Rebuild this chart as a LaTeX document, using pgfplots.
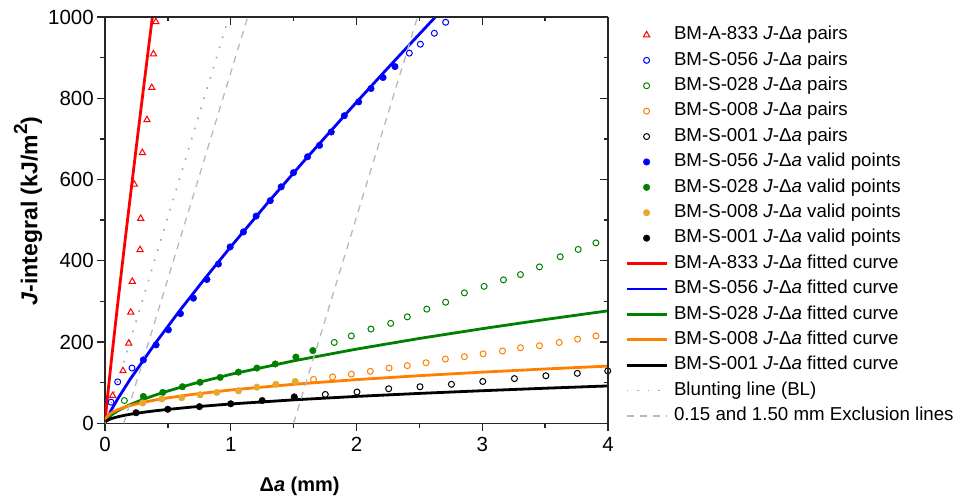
\documentclass[border=0pt]{standalone}
\usepackage{pgfplots}
\pgfplotsset{compat=1.18}
\usepackage{fontspec}
\setmainfont{Liberation Sans}
\definecolor{cRed}{RGB}{255,0,0}
\definecolor{cBlue}{RGB}{0,0,255}
\definecolor{cGreen}{RGB}{0,128,0}
\definecolor{cOrange}{RGB}{255,128,0}
\definecolor{cGold}{RGB}{232,168,48}
\definecolor{cGrey}{RGB}{185,185,185}
\definecolor{cDot}{RGB}{165,165,165}
\newcommand{\JDa}{\textit{J}-Δ\textit{a}}
\begin{document}
\begin{tikzpicture}
\pgfplotsset{
  common/.style={
    at={(0,0)}, anchor=south west,
    scale only axis, width=503bp, height=406.3bp,
    xmin=0, xmax=4, ymin=0, ymax=1000,
    axis line style={-, line width=1.5bp, black!85},
    every tick/.style={line width=1.4bp, black!85},
    major tick length=7.7bp, minor tick length=4.5bp,
    xtick={0,1,2,3,4}, ytick={0,200,400,600,800,1000},
    minor x tick num=1, minor y tick num=1,
  }
}
\begin{axis}[common,
  axis x line*=bottom, axis y line*=left,
  tick align=outside,
  tick label style={font=\fontsize{20.5bp}{24bp}\selectfont},
  xticklabel style={yshift=-3bp},
  /pgf/number format/assume math mode=true,
  /pgf/number format/1000 sep={},
  xlabel={\textbf{Δ\textit{a} (mm)}},
  ylabel={\textbf{\textit{J}-integral (kJ/m\raisebox{0.45em}{\fontsize{19bp}{20bp}\selectfont 2})}},
  xlabel style={font=\fontsize{20bp}{24bp}\selectfont, at={(rel axis cs:0.387,0)}, anchor=center, yshift=-63.4bp},
  ylabel style={font=\fontsize{23bp}{26bp}\selectfont, at={(rel axis cs:0,0.5225)}, anchor=center, yshift=77bp},
  legend image code/.code={\draw[mark repeat=2,mark phase=2,#1] plot coordinates {(0bp,0bp) (20bp,0bp) (40bp,0bp)};},
  legend cell align=left,
  legend style={at={(rel axis cs:1,1)}, anchor=north west, xshift=17bp, yshift=-9bp,
    draw=none, fill=none, inner sep=0pt, row sep=7.9bp,
    font=\fontsize{18.7bp}{22bp}\selectfont,
    nodes={inner sep=0pt, text height=13.5bp, text depth=4bp},
    /tikz/every odd column/.append style={column sep=6bp}},
]
% J-Delta a pairs
\addplot[only marks, mark=triangle, mark size=3.6bp, color=cRed, mark options={line width=1bp}] coordinates {
(0.061,68) (0.143,129) (0.189,197) (0.205,273) (0.217,349) (0.279,427) (0.284,504)
(0.233,588) (0.297,666) (0.334,747) (0.372,826) (0.385,909) (0.404,988)};
\addlegendentry{BM-A-833 \JDa{} pairs}
\addplot[only marks, mark=o, mark size=3bp, color=cBlue, mark options={line width=1bp}] coordinates {
(0.048,52) (0.101,102) (0.215,136) (2.420,911) (2.508,933) (2.619,960) (2.709,987)};
\addlegendentry{BM-S-056 \JDa{} pairs}
\addplot[only marks, mark=o, mark size=3bp, color=cGreen, mark options={line width=1bp}] coordinates {
(0.154,56) (1.823,199) (1.959,215) (2.115,232) (2.272,246) (2.404,262) (2.559,281)
(2.709,298) (2.858,321) (3.015,337) (3.169,353) (3.304,366) (3.455,385) (3.620,410)
(3.763,428) (3.904,444)};
\addlegendentry{BM-S-028 \JDa{} pairs}
\addplot[only marks, mark=o, mark size=3bp, color=cOrange, mark options={line width=1bp}] coordinates {
(1.658,108) (1.810,114) (1.959,121) (2.110,128) (2.259,136) (2.404,142) (2.553,149)
(2.707,158) (2.858,164) (3.007,171) (3.161,178) (3.304,186) (3.455,191) (3.612,199)
(3.758,207) (3.904,215)};
\addlegendentry{BM-S-008 \JDa{} pairs}
\addplot[only marks, mark=o, mark size=3bp, color=black, mark options={line width=1bp}] coordinates {
(1.752,71) (2.004,77) (2.256,85) (2.505,90) (2.755,96) (3.004,103) (3.256,110)
(3.506,117) (3.756,123) (3.998,129)};
\addlegendentry{BM-S-001 \JDa{} pairs}
% valid points
\addplot[only marks, mark=*, mark size=3.3bp, color=cBlue] coordinates {
(0.305,156) (0.406,193) (0.504,230) (0.600,270) (0.703,308) (0.810,354) (0.902,392)
(0.995,434) (1.101,471) (1.202,510) (1.314,548) (1.401,582) (1.499,617) (1.611,656)
(1.706,684) (1.799,717) (1.903,757) (2.017,791) (2.115,824) (2.211,851) (2.306,878)};
\addlegendentry{BM-S-056 \JDa{} valid points}
\addplot[only marks, mark=*, mark size=3.3bp, color=cGreen] coordinates {
(0.305,66) (0.459,76) (0.616,90) (0.756,101) (0.916,113) (1.061,126) (1.208,136)
(1.354,146) (1.518,163) (1.653,179)};
\addlegendentry{BM-S-028 \JDa{} valid points}
\addplot[only marks, mark=*, mark size=3.3bp, color=cGold] coordinates {
(0.300,50) (0.451,60) (0.610,63) (0.756,70) (0.889,76) (1.061,80) (1.208,89)
(1.359,96) (1.513,103)};
\addlegendentry{BM-S-008 \JDa{} valid points}
\addplot[only marks, mark=*, mark size=3.3bp, color=black] coordinates {
(0.247,26) (0.499,34.5) (0.751,41) (1.000,48) (1.250,56) (1.505,65)};
\addlegendentry{BM-S-001 \JDa{} valid points}
% fitted curves
\addplot[no marks, line width=2.8bp, color=cRed] coordinates {
(0,0) (0.01,34.2) (0.02,65.2) (0.05,152.8) (0.1,291.2) (0.15,424.5) (0.2,554.6)
(0.25,682.7) (0.3,808.8) (0.35,933.5) (0.38,1007.6)};
\addlegendentry{BM-A-833 \JDa{} fitted curve}
\addplot[no marks, line width=2.8bp, color=cBlue] coordinates {
(0,0) (0.02,14.9) (0.05,32.8) (0.1,59.6) (0.2,108.4) (0.4,197.0) (0.6,279.6)
(0.8,358.4) (1.0,434.5) (1.3,544.9) (1.6,651.8) (2.0,790.3) (2.3,891.5) (2.65,1007.6)};
\addlegendentry{BM-S-056 \JDa{} fitted curve}
\addplot[no marks, line width=2.8bp, color=cGreen] coordinates {
(0,0) (0.002,2.9) (0.005,5.0) (0.01,7.6) (0.03,14.7) (0.06,22.3) (0.1,30.3) (0.15,38.6)
(0.2,45.9) (0.3,58.5) (0.4,69.5) (0.5,79.5) (0.7,97.3) (1,120.5) (1.5,153.7) (2,182.6)
(2.5,208.8) (3,232.9) (3.5,255.5) (4,276.8)};
\addlegendentry{BM-S-028 \JDa{} fitted curve}
\addplot[no marks, line width=2.8bp, color=cOrange] coordinates {
(0,0) (0.002,7.3) (0.005,10.4) (0.01,13.6) (0.03,20.9) (0.06,27.4) (0.1,33.4) (0.15,39.1)
(0.2,43.8) (0.3,51.3) (0.4,57.4) (0.5,62.6) (0.7,71.3) (1,82) (1.5,96.0) (2,107.5)
(2.5,117.2) (3,125.9) (3.5,133.7) (4,140.8)};
\addlegendentry{BM-S-008 \JDa{} fitted curve}
\addplot[no marks, line width=2.8bp, color=black] coordinates {
(0,0) (0.002,2.5) (0.005,3.8) (0.01,5.3) (0.03,9.0) (0.06,12.5) (0.1,15.9) (0.15,19.3)
(0.2,22.2) (0.3,26.9) (0.4,30.8) (0.5,34.2) (0.7,40.2) (1,47.6) (1.5,57.7) (2,66.2)
(2.5,73.6) (3,80.2) (3.5,86.3) (4,92.0)};
\addlegendentry{BM-S-001 \JDa{} fitted curve}
% blunting and exclusion lines
\addplot[no marks, line width=1.6bp, color=cDot, dash pattern=on 1.6bp off 9bp] coordinates {
(0,0) (0.985,1000)};
\addlegendentry{Blunting line (BL)}
\addplot[no marks, line width=1.3bp, color=cGrey, dash pattern=on 7bp off 6bp] coordinates {
(0.15,0) (1.135,1000)};
\addlegendentry{0.15 and 1.50 mm Exclusion lines}
\addplot[no marks, line width=1.3bp, color=cGrey, dash pattern=on 7bp off 6bp, forget plot] coordinates {
(1.5,0) (2.485,1000)};
\end{axis}
\begin{axis}[common,
  axis x line*=top, axis y line*=right,
  tick align=inside,
  xticklabels={}, yticklabels={},
]
\end{axis}
\pgfresetboundingbox
\path[use as bounding box] (-105bp,-74.7bp) rectangle (856bp,423.3bp);
\end{tikzpicture}
\end{document}
